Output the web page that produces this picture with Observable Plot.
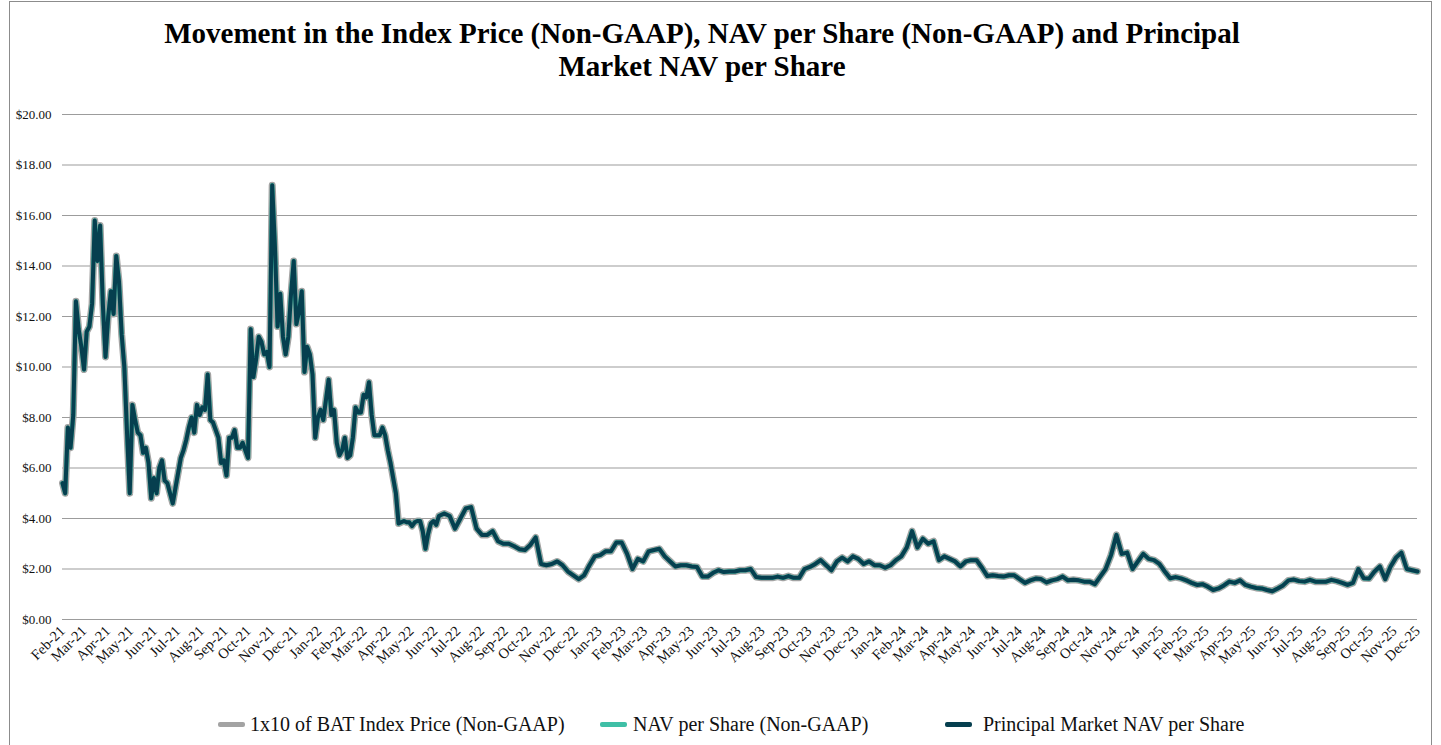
<!DOCTYPE html>
<html><head><meta charset="utf-8">
<script src="https://cdn.jsdelivr.net/npm/d3@7"></script>
<script src="https://cdn.jsdelivr.net/npm/@observablehq/plot@0.6"></script>
<style>
body{margin:0;background:#fff;font-family:"Liberation Serif","Times New Roman",serif;overflow:hidden;}
#frame{position:absolute;left:9px;top:1px;width:1423px;height:760px;border:1px solid #8c8c8c;box-sizing:border-box;}
#title{position:absolute;left:0;width:1404px;top:17px;text-align:center;font-weight:bold;font-size:29px;line-height:33px;color:#000;}
#chart{position:absolute;left:0;top:90px;}
#legend{position:absolute;top:711px;left:0;width:1441px;height:26px;font-size:20px;color:#111;}
.sw{position:absolute;top:11px;width:27px;height:5px;border-radius:2px;}
.lt{position:absolute;top:0;line-height:26px;white-space:nowrap;}
</style>
</head><body>
<div id="frame"></div>
<div id="title">Movement in the Index Price (Non-GAAP), NAV per Share (Non-GAAP) and Principal<br>Market NAV per Share</div>
<div id="chart"></div>
<div id="legend"></div>
<script>
// Series names and colours
const seriesNames = ["1x10 of BAT Index Price (Non-GAAP)", "NAV per Share (Non-GAAP)", "Principal Market NAV per Share"];
const seriesColors = ["#a3a3a3", "#3fbfa6", "#063f4f"];

// Y tick values
const yTicks = [0, 2, 4, 6, 8, 10, 12, 14, 16, 18, 20];

// Values: half-weekly from 2021-02-01 to 2022-06-06
const principalNavHalfWeekly = [
 5.4,5.0,7.6,6.8,8.1,12.6,11.5,10.8,9.9,11.4,11.6,12.5,15.8,14.2,15.6,12.5,10.4,12.0,13.0,12.1,
 14.4,13.4,11.3,10.0,7.4,5.0,8.5,7.9,7.4,7.3,6.6,6.8,6.2,4.8,5.6,5.0,6.0,6.3,5.5,5.4,
 5.0,4.6,5.2,5.8,6.4,6.7,7.1,7.6,8.0,7.4,8.5,8.1,8.4,8.3,9.7,7.9,7.8,7.5,7.2,6.2,
 6.3,5.7,7.2,7.2,7.5,6.8,6.8,7.0,6.7,6.4,11.5,9.6,10.3,11.2,11.0,10.5,10.6,10.0,17.2,14.8,
 11.6,12.9,11.2,10.5,11.2,12.9,14.2,11.7,12.2,13.0,9.8,10.8,10.5,9.7,7.2,8.0,8.3,7.9,8.7,9.5,
 8.1,8.3,7.0,6.5,6.7,7.2,6.4,6.5,7.2,8.4,8.2,8.2,8.9,8.8,9.4,8.1,7.3,7.3,7.3,7.6,
 7.3,6.7,6.2,5.6,5.0,3.8,3.85,3.9,3.85,3.85,3.7,3.85,3.9,3.9,3.5,2.8,3.4,3.8,3.9,3.75,
 4.1
];
// Weekly from 2022-06-13 to 2025-12-01
const principalNavWeekly = [
 4.2,4.1,3.6,4.0,4.4,4.45,3.6,3.35,3.35,3.5,3.1,3.0,3.0,2.9,2.78,2.75,2.95,3.25,2.2,2.15,
 2.2,2.3,2.15,1.9,1.75,1.6,1.75,2.15,2.5,2.55,2.7,2.7,3.05,3.05,2.6,2.0,2.4,2.3,2.7,2.75,
 2.8,2.5,2.3,2.1,2.15,2.15,2.1,2.08,1.7,1.7,1.85,1.95,1.88,1.9,1.9,1.95,1.95,2.0,1.68,1.65,
 1.65,1.65,1.7,1.65,1.72,1.65,1.65,2.0,2.08,2.2,2.35,2.15,1.95,2.3,2.45,2.3,2.5,2.4,2.2,2.3,
 2.15,2.15,2.05,2.15,2.35,2.5,2.85,3.5,2.85,3.2,3.0,3.1,2.35,2.5,2.4,2.3,2.1,2.3,2.35,2.35,
 2.05,1.72,1.75,1.72,1.7,1.75,1.75,1.6,1.45,1.55,1.62,1.6,1.47,1.55,1.6,1.7,1.55,1.57,1.55,1.5,
 1.5,1.4,1.7,2.0,2.55,3.35,2.6,2.65,2.0,2.3,2.6,2.4,2.35,2.2,1.9,1.63,1.68,1.63,1.55,1.45,
 1.37,1.4,1.3,1.17,1.23,1.35,1.5,1.45,1.55,1.37,1.3,1.25,1.23,1.17,1.12,1.23,1.35,1.55,1.58,1.52,
 1.5,1.57,1.5,1.5,1.5,1.57,1.52,1.45,1.37,1.45,2.0,1.63,1.62,1.9,2.1,1.6,2.1,2.45,2.65,2.0,
 1.95,1.9
];
// The three series overlap to within a line width in the picture
const principalNav = principalNavHalfWeekly.concat(principalNavWeekly);
const navPerShare = principalNav;
const batIndexX10 = principalNav;

// Dates of the readings
const DAY = 864e5;
const start = Date.UTC(2021, 1, 1);
const switchDate = Date.UTC(2022, 5, 6);
const dates = principalNavHalfWeekly.map((_, i) => new Date(start + i * 3.5 * DAY))
  .concat(principalNavWeekly.map((_, k) => new Date(switchDate + (k + 1) * 7 * DAY)));

const monthTicks = d3.utcMonth.range(new Date(Date.UTC(2021,1,1)), new Date(Date.UTC(2025,11,2)));

const seriesValues = [batIndexX10, navPerShare, principalNav];
const widths = [7, 4.4, 4];
const rows = [];
seriesValues.forEach((vals, s) => vals.forEach((v, i) => rows.push({series: seriesNames[s], date: dates[i], value: v})));

const chart = Plot.plot({
  width: 1441, height: 610,
  marginTop: 24, marginBottom: 81, marginLeft: 62, marginRight: 24,
  style: {fontFamily: "'Liberation Serif', 'Times New Roman', serif", fontSize: "13px", color: "#111", background: "transparent"},
  x: {type: "utc", domain: [new Date(Date.UTC(2021,1,1)), new Date(Date.UTC(2025,11,1))]},
  y: {domain: [0, 20]},
  marks: [
    Plot.gridY(yTicks, {stroke: "#9c9c9c", strokeOpacity: 1, strokeWidth: 1.2}),
    Plot.axisY(yTicks, {tickSize: 0, tickPadding: 11, tickFormat: d => "$" + d.toFixed(2), label: null, fontSize: 13}),
    Plot.axisX(monthTicks, {tickSize: 0, tickRotate: -45, tickPadding: 9, tickFormat: d3.utcFormat("%b-%y"), label: null, fontSize: 14.5}),
    ...seriesNames.map((name, s) => Plot.line(rows.filter(r => r.series === name), {
      x: "date", y: "value", stroke: seriesColors[s], strokeWidth: widths[s], strokeLinejoin: "round", strokeLinecap: "round"
    }))
  ]
});
document.getElementById("chart").appendChild(chart);

const swatchLeft = [218, 600, 945];
const textLeft = [250, 633, 983];
const legend = document.getElementById("legend");
seriesNames.forEach((name, s) => {
  const sw = document.createElement("span");
  sw.className = "sw";
  sw.style.left = swatchLeft[s] + "px";
  sw.style.background = seriesColors[s];
  legend.appendChild(sw);
  const t = document.createElement("span");
  t.className = "lt";
  t.style.left = textLeft[s] + "px";
  t.textContent = name;
  legend.appendChild(t);
});
</script>
</body></html>
